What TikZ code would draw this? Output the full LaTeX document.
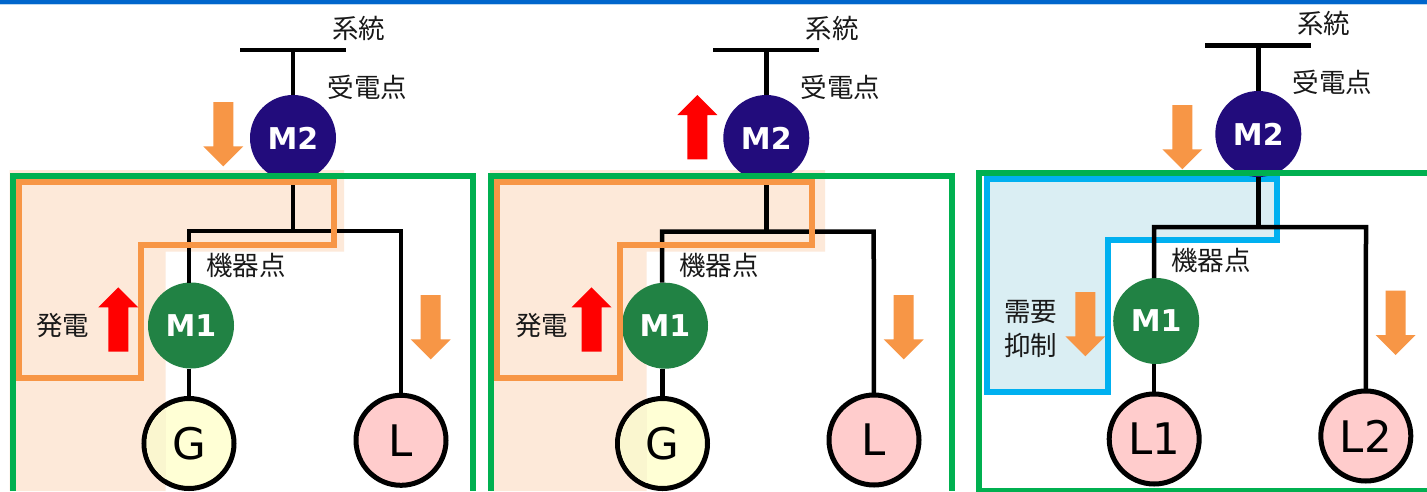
\documentclass[tikz,border=0pt]{standalone}
\usepackage{fontspec}
\newfontfamily\cjkf{Noto Sans CJK JP}
\newfontfamily\latf{DejaVu Sans}
\definecolor{orangeln}{HTML}{F79646}
\definecolor{palefill}{HTML}{FDE9D9}
\definecolor{greenln}{HTML}{00B050}
\definecolor{blueln}{HTML}{00B0F0}
\definecolor{bluefill}{HTML}{DAEEF3}
\definecolor{navyc}{HTML}{220C7C}
\definecolor{greenc}{HTML}{218244}
\definecolor{gfill}{HTML}{FFFFD5}
\definecolor{gtint}{HTML}{FAF6CF}
\definecolor{lfill}{HTML}{FFCCCC}
\definecolor{topbar}{HTML}{0066CC}
\definecolor{toplight}{HTML}{BBD7F0}
\tikzset{
  wire/.style={draw=black,line width=4.5pt},
  busbar/.style={draw=black,line width=4.5pt},
  meter/.style={circle,inner sep=0pt,outer sep=0pt,minimum size=86pt,text=white,font=\latf\bfseries\fontsize{30}{30}\selectfont},
  mtwo/.style={meter,fill=navyc},
  mone/.style={meter,fill=greenc},
  equip/.style={circle,draw=black,line width=5pt,inner sep=0pt,outer sep=0pt,minimum size=90pt,text=black,font=\latf\fontsize{43.5}{43.5}\selectfont},
  gen/.style={equip,fill=gfill},
  load/.style={equip,fill=lfill},
  lbl/.style={inner sep=0pt,text=black!90,font=\cjkf\fontsize{26.5}{26.5}\selectfont},
  greenbox/.style={draw=greenln,line width=6pt,line join=miter},
  orangebox/.style={draw=orangeln,line width=6pt,line join=miter},
  bluebox/.style={draw=blueln,line width=6pt,line join=miter,fill=bluefill},
  pale/.style={fill=palefill},
  arrdn/.style={fill=orangeln},
  arrup/.style={fill=red}
}
\newcommand{\dnarr}[2]{\fill[arrdn] (#1-10,#2) -- (#1+10,#2) -- (#1+10,#2+44.3) -- (#1+20,#2+44.3) -- (#1,#2+64.3) -- (#1-20,#2+44.3) -- (#1-10,#2+44.3) -- cycle;}
\newcommand{\uparr}[2]{\fill[arrup] (#1-10,#2) -- (#1+10,#2) -- (#1+10,#2-44.3) -- (#1+20,#2-44.3) -- (#1,#2-64.3) -- (#1-20,#2-44.3) -- (#1-10,#2-44.3) -- cycle;}
\begin{document}
\begin{tikzpicture}[x=1pt,y=-1pt]
\useasboundingbox (0,0) rectangle (1427,491);
\fill[white] (0,0) rectangle (1427,491);
\fill[toplight] (0,4) rectangle (1427,5);
\fill[topbar] (0,0) rectangle (1427,4);

% ---- panel 1 ----
\fill[pale] (9.5,170) -- (344,170) -- (344,251.7) -- (165.5,251.7) -- (165.5,491) -- (9.5,491) -- cycle;
\coordinate (a1) at (240,50); \coordinate (a2) at (346,50); \coordinate (at) at (293,50);
\coordinate (aj) at (293,231); \coordinate (al) at (189,231); \coordinate (ar) at (401,231);
\node[mtwo] (am2) at (293,138) {\raisebox{-1.5pt}{M2}};
\node[mone] (am1) at (191,325.5) {M1};
\node[gen] (ag) at (189,443.5) {\raisebox{-1.5pt}{G}};
\begin{scope}
\clip (ag.center) circle (42.5);
\fill[gtint] (140,390) rectangle (165.5,491);
\end{scope}
\node[load] (al1) at (401,440.3) {L};
\draw[busbar] (a1) -- (a2);
\draw[wire] (at) -- (am2);
\draw[wire] (am2) -- (aj);
\draw[wire,line join=miter] (am1.north -| al) -- (al) -- (ar) -- (al1);
\draw[wire] (am1.south -| ag) -- (ag);
\draw[greenbox] (12.5,491) -- (12.5,176) -- (473,176) -- (473,491);
\draw[orangebox] (18.5,182) -- (334,182) -- (334,245) -- (141,245) -- (141,378) -- (18.5,378) -- cycle;
\dnarr{223.3}{102}
\uparr{118.3}{351.7}
\dnarr{430.7}{295}
\node[lbl] (as) at (358.7,28) {系統};
\node[lbl] (ar1) at (367.5,87.3) {受電点};
\node[lbl] (ak) at (245.8,265) {機器点};
\node[lbl] (ah) at (62.8,326) {発電};

% ---- panel 2 ----
\fill[pale] (490,170) -- (825,170) -- (825,251.7) -- (646.7,251.7) -- (646.7,491) -- (490,491) -- cycle;
\coordinate (b1) at (713.3,50); \coordinate (b2) at (819.3,50); \coordinate (bt) at (766.3,50);
\coordinate (bj) at (766.3,231.5); \coordinate (bl) at (662,231.5); \coordinate (br) at (873.7,231.5);
\node[mtwo] (bm2) at (766.3,138) {\raisebox{-1.5pt}{M2}};
\node[mone] (bm1) at (665,325.7) {M1};
\node[gen] (bg) at (662.5,443.5) {\raisebox{-1.5pt}{G}};
\begin{scope}
\clip (bg.center) circle (42.5);
\fill[gtint] (610,390) rectangle (646.7,491);
\end{scope}
\node[load] (bl1) at (874,440) {L};
\draw[busbar] (b1) -- (b2);
\draw[wire] (bt) -- (bm2);
\draw[wire] (bm2) -- (bj);
\draw[wire,line join=miter] (bm1.north -| bl) -- (bl) -- (br) -- (bl1);
\draw[wire] (bm1.south -| bg) -- (bg);
\draw[greenbox] (491.3,491) -- (491.3,176.3) -- (952.2,176.3) -- (952.2,491);
\draw[orangebox] (497,182) -- (812,182) -- (812,244.7) -- (620.3,244.7) -- (620.3,377.5) -- (497,377.5) -- cycle;
\uparr{697.3}{159.3}
\uparr{591.5}{351.7}
\dnarr{903.7}{295}
\node[lbl] (bs) at (832,28) {系統};
\node[lbl] (br1) at (840.3,87.3) {受電点};
\node[lbl] (bk) at (718.8,265) {機器点};
\node[lbl] (bh) at (541.8,326) {発電};

% ---- panel 3 ----
\draw[bluebox] (987,179) -- (1277.3,179) -- (1277.3,240.3) -- (1108.3,240.3) -- (1108.3,392) -- (987,392) -- cycle;
\coordinate (c1) at (1205,45.3); \coordinate (c2) at (1311.3,45.3); \coordinate (ct) at (1258.3,45.3);
\coordinate (cj) at (1258.3,227); \coordinate (cl) at (1154,227); \coordinate (cr) at (1366,227);
\node[mtwo] (cm2) at (1258.3,134) {\raisebox{-1pt}{M2}};
\node[mone] (cm1) at (1156.2,321) {M1};
\node[load] (cl1) at (1154.2,439) {L1};
\node[load] (cl2) at (1365.8,436) {L2};
\draw[busbar] (c1) -- (c2);
\draw[wire] (ct) -- (cm2);
\draw[wire] (cm2) -- (cj);
\draw[wire,line join=miter] (cm1.north -| cl) -- (cl) -- (cr) -- (cl2);
\draw[wire] (cm1.south -| cl1) -- (cl1);
\draw[greenbox] (1427,173) -- (978.7,173) -- (978.7,491) -- (1427,491);
\dnarr{1182.3}{105}
\dnarr{1085.3}{292}
\dnarr{1395.7}{290.7}
\node[lbl] (cs) at (1323.8,23.3) {系統};
\node[lbl] (cr1) at (1332.7,82.7) {受電点};
\node[lbl] (ck) at (1211,260) {機器点};
\node[lbl] (cd1) at (1030.5,311.7) {需要};
\node[lbl] (cd2) at (1030.5,345) {抑制};
\end{tikzpicture}
\end{document}
